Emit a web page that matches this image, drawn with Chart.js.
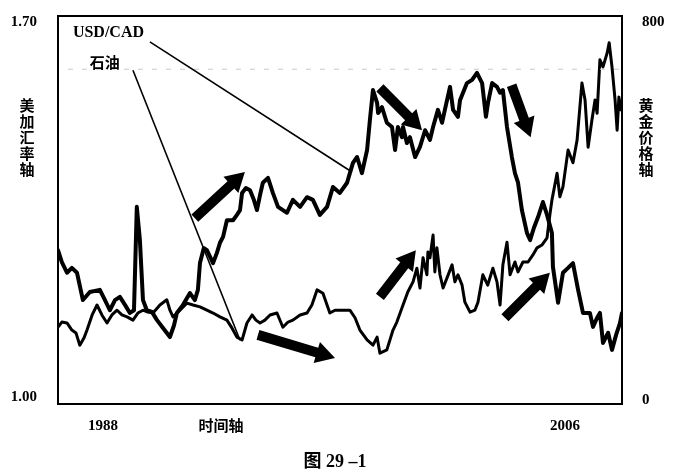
<!DOCTYPE html>
<html>
<head>
<meta charset="utf-8">
<title>图 29-1</title>
<script src="https://cdn.jsdelivr.net/npm/chart.js@4/dist/chart.umd.min.js"></script>
<style>
  html, body { margin: 0; padding: 0; background: #fff; }
  #chart { display: block; }
</style>
</head>
<body>
<canvas id="chart" width="673" height="473"></canvas>
<script>
'use strict';

/* Data */

// USD/CAD (left axis)
var cadYears = [
  1986.25, 1986.40, 1986.60, 1986.79, 1986.99, 1987.22, 1987.49, 1987.88, 1988.08, 1988.27,
  1988.47, 1988.66, 1988.86, 1989.05, 1989.21, 1989.32, 1989.44, 1989.56, 1989.71, 1989.91,
  1990.10, 1990.34, 1990.61, 1990.77, 1990.88, 1991.12, 1991.39, 1991.58, 1991.70, 1991.78,
  1991.93, 1992.05, 1992.29, 1992.44, 1992.56, 1992.68, 1992.83, 1993.07, 1993.22, 1993.34,
  1993.42, 1993.57, 1993.73, 1993.88, 1994.00, 1994.12, 1994.23, 1994.43, 1994.62, 1994.82,
  1995.01, 1995.17, 1995.40, 1995.68, 1995.95, 1996.18, 1996.45, 1996.73, 1996.96, 1997.23,
  1997.51, 1997.62, 1997.74, 1997.90, 1998.09, 1998.29, 1998.40, 1998.52, 1998.68, 1998.72,
  1998.87, 1999.06, 1999.26, 1999.38, 1999.49, 1999.65, 1999.69, 1999.84, 1999.96, 2000.16,
  2000.35, 2000.55, 2000.74, 2000.86, 2001.05, 2001.21, 2001.32, 2001.52, 2001.64, 2001.83,
  2001.91, 2002.18, 2002.38, 2002.57, 2002.77, 2002.92, 2003.00, 2003.16, 2003.35, 2003.47,
  2003.58, 2003.74, 2003.93, 2004.05, 2004.17, 2004.32, 2004.52, 2004.64, 2004.79, 2004.95,
  2005.14, 2005.30, 2005.49, 2005.53, 2005.73, 2005.92, 2006.12, 2006.31, 2006.51, 2006.70,
  2006.97, 2007.09, 2007.25, 2007.36, 2007.48, 2007.68, 2007.83, 2007.99, 2008.14, 2008.22
];
var cadValues = [
  1.274, 1.252, 1.232, 1.241, 1.232, 1.181, 1.196, 1.200, 1.181, 1.162,
  1.181, 1.187, 1.172, 1.157, 1.162, 1.355, 1.293, 1.181, 1.162, 1.159,
  1.144, 1.129, 1.112, 1.134, 1.157, 1.172, 1.194, 1.181, 1.200, 1.250,
  1.278, 1.274, 1.250, 1.269, 1.288, 1.299, 1.330, 1.330, 1.340, 1.349,
  1.381, 1.390, 1.386, 1.368, 1.349, 1.377, 1.400, 1.409, 1.381, 1.355,
  1.349, 1.344, 1.368, 1.355, 1.373, 1.368, 1.340, 1.355, 1.392, 1.381,
  1.400, 1.418, 1.437, 1.448, 1.418, 1.461, 1.517, 1.573, 1.549, 1.530,
  1.541, 1.512, 1.504, 1.461, 1.504, 1.485, 1.504, 1.474, 1.485, 1.448,
  1.467, 1.498, 1.480, 1.504, 1.536, 1.512, 1.536, 1.579, 1.536, 1.523,
  1.554, 1.586, 1.592, 1.605, 1.586, 1.523, 1.549, 1.586, 1.579, 1.568,
  1.573, 1.504, 1.448, 1.418, 1.400, 1.349, 1.306, 1.293, 1.316, 1.336,
  1.364, 1.340, 1.306, 1.243, 1.176, 1.232, 1.241, 1.250, 1.200, 1.157,
  1.157, 1.131, 1.148, 1.157, 1.101, 1.120, 1.088, 1.116, 1.138, 1.157
];

// second series, right axis (gold price)
var goldYears = [
  1986.25, 1986.40, 1986.60, 1986.79, 1986.95, 1987.10, 1987.26, 1987.38, 1987.58, 1987.77,
  1987.96, 1988.16, 1988.35, 1988.55, 1988.74, 1988.94, 1989.17, 1989.36, 1989.56, 1989.75,
  1989.95, 1990.22, 1990.49, 1990.61, 1990.73, 1991.00, 1991.27, 1991.51, 1991.78, 1992.05,
  1992.29, 1992.56, 1992.83, 1993.03, 1993.22, 1993.42, 1993.61, 1993.81, 1993.96, 1994.12,
  1994.31, 1994.51, 1994.78, 1995.01, 1995.21, 1995.40, 1995.68, 1995.95, 1996.14, 1996.34,
  1996.57, 1996.84, 1997.04, 1997.35, 1997.62, 1997.82, 1998.01, 1998.29, 1998.52, 1998.68,
  1998.79, 1999.06, 1999.30, 1999.45, 1999.69, 1999.88, 2000.08, 2000.23, 2000.35, 2000.47,
  2000.62, 2000.66, 2000.74, 2000.86, 2000.93, 2001.01, 2001.13, 2001.25, 2001.40, 2001.60,
  2001.71, 2001.83, 2001.99, 2002.10, 2002.30, 2002.49, 2002.61, 2002.80, 2002.99, 2003.19,
  2003.35, 2003.47, 2003.58, 2003.74, 2003.86, 2004.05, 2004.17, 2004.36, 2004.56, 2004.75,
  2004.91, 2005.10, 2005.30, 2005.41, 2005.49, 2005.69, 2005.80, 2005.92, 2006.12, 2006.31,
  2006.47, 2006.66, 2006.78, 2006.90, 2007.05, 2007.17, 2007.25, 2007.36, 2007.48, 2007.64,
  2007.72, 2007.83, 2007.95, 2008.03, 2008.10, 2008.18
];
var goldValues = [
  154, 165, 163, 148, 142, 116, 131, 148, 180, 201,
  180, 163, 180, 190, 180, 176, 169, 184, 190, 186,
  184, 201, 212, 190, 176, 190, 205, 201, 197, 190,
  184, 176, 169, 152, 133, 127, 163, 180, 169, 163,
  169, 180, 184, 154, 165, 169, 180, 184, 201, 233,
  226, 184, 190, 190, 190, 174, 148, 127, 116, 133,
  99, 106, 148, 165, 201, 229, 250, 279, 237, 301,
  265, 313, 301, 349, 271, 322, 265, 237, 258, 286,
  250, 265, 243, 207, 186, 190, 207, 265, 243, 279,
  250, 201, 286, 334, 265, 292, 271, 292, 292, 307,
  322, 328, 343, 392, 423, 480, 430, 451, 529, 502,
  550, 671, 635, 535, 593, 635, 607, 720, 705, 734,
  756, 705, 635, 571, 641, 614
];

// tick labels
var yearTicks = [1988, 2006];
var cadTicks = [1.00, 1.70];
var goldTicks = [0, 800];

// annotation arrows, [fromYear, fromCad, toYear, toCad]
var arrows = [
  [1991.58, 1.334, 1993.53, 1.420],
  [1994.04, 1.116, 1997.04, 1.073],
  [1998.79, 1.187, 2000.19, 1.274],
  [2003.66, 1.148, 2005.41, 1.232],
  [1998.79, 1.577, 2000.43, 1.498],
  [2003.92, 1.582, 2004.66, 1.485]
];

// label pointers, [fromYear, fromCad, toYear, toCad]
var pointers = [
  [1989.83, 1.663, 1997.70, 1.420],
  [1989.17, 1.610, 1993.34, 1.106]
];

var serif = '"Liberation Serif", "Noto Sans CJK SC", serif';
var cjk = '"Noto Sans CJK SC", sans-serif';

function toPoints(xs, ys) {
  return xs.map(function(x, i) { return { x: x, y: ys[i] }; });
}

function fixedTicks(values) {
  return function(scale) {
    scale.ticks = values.map(function(v) { return { value: v }; });
  };
}

// fixed axis size, and no extra room asked for the tick labels
function fixedSize(w, h) {
  return function(scale) {
    if (w) scale.width = w;
    if (h) scale.height = h;
    scale.paddingTop = 0;
    scale.paddingBottom = 0;
    scale.paddingLeft = 0;
    scale.paddingRight = 0;
  };
}

function drawArrow(ctx, x1, y1, x2, y2) {
  var ang = Math.atan2(y2 - y1, x2 - x1);
  var len = Math.hypot(x2 - x1, y2 - y1);
  var shaft = 5, head = 11, headLen = 19;
  ctx.save();
  ctx.translate(x1, y1);
  ctx.rotate(ang);
  ctx.beginPath();
  ctx.moveTo(0, -shaft);
  ctx.lineTo(len - headLen, -shaft);
  ctx.lineTo(len - headLen, -head);
  ctx.lineTo(len, 0);
  ctx.lineTo(len - headLen, head);
  ctx.lineTo(len - headLen, shaft);
  ctx.lineTo(0, shaft);
  ctx.closePath();
  ctx.fillStyle = '#000';
  ctx.fill();
  ctx.restore();
}

function drawStacked(ctx, text, x, y, step) {
  for (var i = 0; i < text.length; i++) {
    ctx.fillText(text[i], x, y + i * step);
  }
}

// frame, titles, pointers, arrows and caption
var decorations = {
  id: 'decorations',
  afterDatasetsDraw: function(chart) {
    var ctx = chart.ctx;
    var area = chart.chartArea;
    var sx = chart.scales.x, sy = chart.scales.y, sg = chart.scales.y1;

    ctx.save();

    // faint dotted line near the top
    ctx.strokeStyle = '#c8c8c8';
    ctx.lineWidth = 1;
    ctx.setLineDash([5, 9]);
    ctx.beginPath();
    ctx.moveTo(area.left + 10, sg.getPixelForValue(700));
    ctx.lineTo(area.right - 2, sg.getPixelForValue(700));
    ctx.stroke();
    ctx.setLineDash([]);

    // frame
    ctx.strokeStyle = '#000';
    ctx.lineWidth = 2;
    ctx.strokeRect(area.left, area.top, area.right - area.left, area.bottom - area.top);

    // label pointers
    ctx.lineWidth = 1.6;
    pointers.forEach(function(p) {
      ctx.beginPath();
      ctx.moveTo(sx.getPixelForValue(p[0]), sy.getPixelForValue(p[1]));
      ctx.lineTo(sx.getPixelForValue(p[2]), sy.getPixelForValue(p[3]));
      ctx.stroke();
    });

    arrows.forEach(function(a) {
      drawArrow(ctx,
        sx.getPixelForValue(a[0]), sy.getPixelForValue(a[1]),
        sx.getPixelForValue(a[2]), sy.getPixelForValue(a[3]));
    });

    ctx.fillStyle = '#000';
    ctx.textBaseline = 'middle';
    ctx.textAlign = 'left';
    ctx.font = 'bold 16px ' + serif;
    ctx.fillText('USD/CAD', sx.getPixelForValue(1986.83), sy.getPixelForValue(1.680));
    ctx.font = 'bold 15px ' + cjk;
    ctx.fillText('石油', sx.getPixelForValue(1987.49), sy.getPixelForValue(1.625));

    // axis titles
    ctx.textAlign = 'center';
    ctx.font = 'bold 15px ' + cjk;
    drawStacked(ctx, '美加汇率轴', 27, 105, 16);
    drawStacked(ctx, '黄金价格轴', 646, 105, 16);
    ctx.fillText('时间轴', 221, 425);

    // caption
    ctx.font = 'bold 18px ' + serif;
    ctx.fillText('图 29 –1', 335, 462);

    ctx.restore();
  }
};

var ctx = document.getElementById('chart').getContext('2d');
var chart = new Chart(ctx, {
  type: 'line',
  data: {
    datasets: [{
      label: 'USD/CAD',
      data: toPoints(cadYears, cadValues),
      yAxisID: 'y',
      borderColor: '#000',
      borderWidth: 4,
      pointRadius: 0,
      tension: 0,
      borderJoinStyle: 'round',
      borderCapStyle: 'round'
    }, {
      label: '石油',
      data: toPoints(goldYears, goldValues),
      yAxisID: 'y1',
      borderColor: '#000',
      borderWidth: 3,
      pointRadius: 0,
      tension: 0,
      borderJoinStyle: 'round',
      borderCapStyle: 'round'
    }]
  },
  options: {
    responsive: false,
    animation: false,
    events: [],
    layout: { padding: { top: 16, left: 0, right: 0, bottom: 0 } },
    plugins: {
      legend: { display: false },
      tooltip: { enabled: false }
    },
    scales: {
      x: {
        type: 'linear',
        min: 1986.25,
        max: 2008.22,
        grid: { display: false, drawTicks: false },
        border: { display: false },
        afterBuildTicks: fixedTicks(yearTicks),
        afterFit: fixedSize(0, 69),
        ticks: {
          padding: 13,
          color: '#000',
          font: { family: serif, size: 15, weight: 'bold' },
          maxRotation: 0,
          callback: function(v) { return String(v); }
        }
      },
      y: {
        position: 'left',
        min: 0.987,
        max: 1.7112,
        grid: { display: false, drawTicks: false },
        border: { display: false },
        afterBuildTicks: fixedTicks(cadTicks),
        afterFit: fixedSize(58, 0),
        ticks: {
          padding: 21,
          color: '#000',
          font: { family: serif, size: 15, weight: 'bold' },
          callback: function(v) { return v.toFixed(2); }
        }
      },
      y1: {
        position: 'right',
        min: -8.5,
        max: 812.7,
        grid: { display: false, drawTicks: false },
        border: { display: false },
        afterBuildTicks: fixedTicks(goldTicks),
        afterFit: fixedSize(51, 0),
        ticks: {
          padding: 20,
          color: '#000',
          font: { family: serif, size: 15, weight: 'bold' },
          callback: function(v) { return String(v); }
        }
      }
    }
  },
  plugins: [decorations]
});
</script>
</body>
</html>
